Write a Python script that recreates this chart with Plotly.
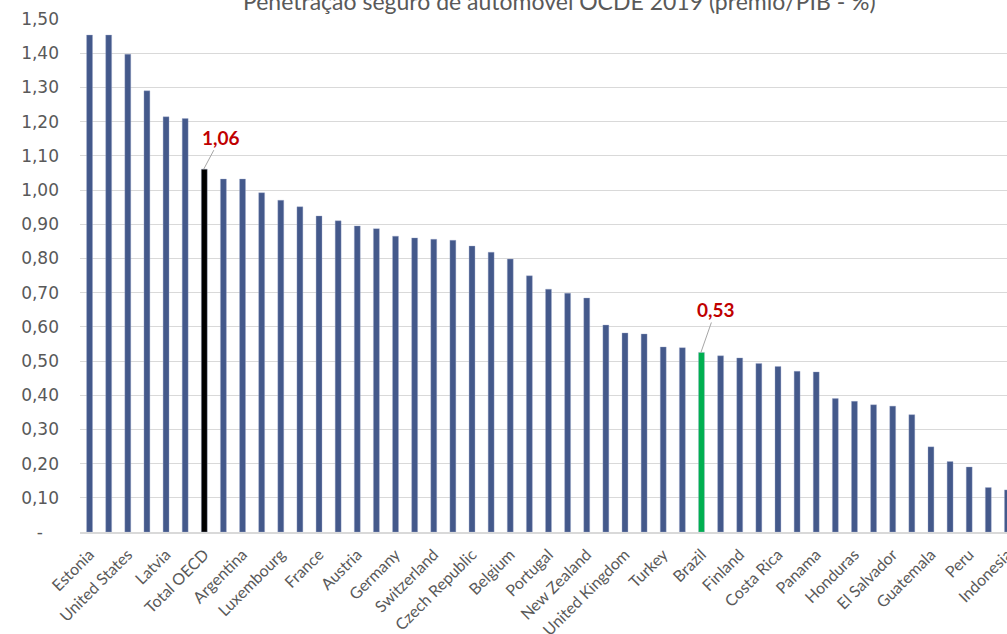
import plotly.graph_objects as go

# Data (motor insurance penetration, premium/GDP %)
values = [1.453, 1.453, 1.397, 1.290, 1.214, 1.209, 1.061, 1.032, 1.032, 0.992,
          0.970, 0.951, 0.924, 0.910, 0.895, 0.887, 0.865, 0.860, 0.856, 0.853,
          0.836, 0.818, 0.798, 0.749, 0.710, 0.698, 0.684, 0.605, 0.582, 0.579,
          0.541, 0.539, 0.525, 0.515, 0.509, 0.493, 0.484, 0.470, 0.468, 0.390,
          0.382, 0.372, 0.368, 0.343, 0.249, 0.206, 0.190, 0.130, 0.123]

# Only every other category label is shown in the reference
tick_labels = ["Estonia", "United States", "Latvia", "Total OECD", "Argentina",
               "Luxembourg", "France", "Austria", "Germany", "Switzerland",
               "Czech Republic", "Belgium", "Portugal", "New Zealand",
               "United Kingdom", "Turkey", "Brazil", "Finland", "Costa Rica",
               "Panama", "Honduras", "El Salvador", "Guatemala", "Peru", "Indonesia"]

y_ticks = [0, 0.1, 0.2, 0.3, 0.4, 0.5, 0.6, 0.7, 0.8, 0.9, 1.0, 1.1, 1.2, 1.3, 1.4, 1.5]

title_text = "Penetração seguro de automóvel OCDE 2019 (prêmio/PIB - %)"
oecd_index = 6
brazil_index = 32

FONT = "Lato"
NUMFONT = "DejaVu Sans"
BLUE = "#44598B"
x = list(range(len(values)))
colors = [BLUE] * len(values)
colors[oecd_index] = "#000000"
colors[brazil_index] = "#00B050"

tick_vals = x[::2]


def fmt(v):
    return f"{v:.2f}".replace(".", ",")


y_text = ["-\u00a0\u00a0\u00a0" if v == 0 else fmt(v) for v in y_ticks]

fig = go.Figure()
fig.add_trace(go.Bar(
    x=x, y=values, width=0.31,
    marker=dict(color=colors, line=dict(color="rgba(160,172,204,0.6)", width=0.6)),
    hoverinfo="skip",
))

for idx, ax, ay in [(oecd_index, 17, -32), (brazil_index, 15, -43)]:
    fig.add_annotation(
        x=idx - 0.03, y=values[idx], xref="x", yref="y",
        text=f"<b>{fmt(values[idx])}</b>",
        showarrow=True, arrowhead=0, arrowwidth=1, arrowcolor="#A6A6A6",
        ax=ax, ay=ay, standoff=0,
        font=dict(family=FONT, size=19, color="#C00000"),
    )

# The figure is slightly wider than the window; the page clips the right edge,
# just as the reference image is cut off there.
fig.add_annotation(
    x=0.512, y=1.036, xref="paper", yref="paper",
    text=title_text, showarrow=False, xanchor="center", yanchor="middle",
    font=dict(family=FONT, size=23, color="#595959"),
)

fig.update_layout(
    width=1017, height=634,
    margin=dict(l=80, r=0, t=19, b=102),
    plot_bgcolor="white", paper_bgcolor="white",
    showlegend=False,
    font=dict(family=FONT, color="#595959"),
    xaxis=dict(
        range=[-0.5, 48.5], tickmode="array", tickvals=tick_vals, ticktext=tick_labels,
        tickangle=-45, tickfont=dict(family=FONT, size=16, color="#595959"),
        showgrid=False, showline=True, linecolor="#D9D9D9", linewidth=2,
        ticks="", zeroline=False, ticklabelstandoff=5, automargin=False,
    ),
    yaxis=dict(
        range=[0, 1.5], tickmode="array", tickvals=y_ticks, ticktext=y_text,
        tickfont=dict(family=NUMFONT, size=17, color="#595959"),
        showgrid=True, gridcolor="#D9D9D9", gridwidth=1,
        zeroline=False, showline=False, ticks="", ticklabelstandoff=20,
        automargin=False,
    ),
)

fig.write_html(
    "out.html",
    config={"displayModeBar": False},
    post_script="document.body.style.margin='0';document.body.style.overflow='hidden';",
)
